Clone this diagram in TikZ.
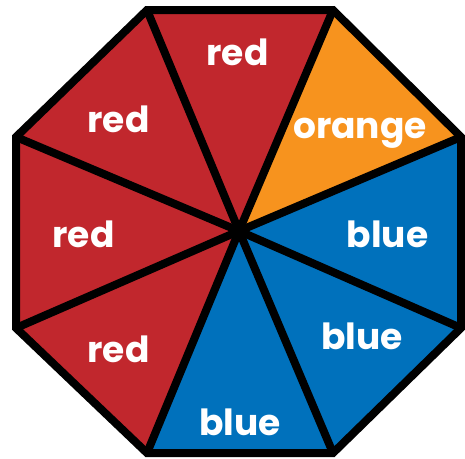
\documentclass[tikz,border=0pt]{standalone}
\usepackage{fontspec}
\setmainfont{Poppins}
\definecolor{wheelred}{RGB}{193,39,45}
\definecolor{wheelorange}{RGB}{247,147,30}
\definecolor{wheelblue}{RGB}{0,113,188}
\begin{document}
\begin{tikzpicture}[yscale=-1
,rim/.style={draw=black,line width=8pt,line join=miter}
,spoke/.style={draw=black,line width=8pt}
,word/.style={anchor=base,text=white,inner sep=0,font=\fontsize{36pt}{36pt}\selectfont\bfseries}
]
\useasboundingbox (0pt,0pt) rectangle (465pt,458pt);
% corners of the octagon and its centre
\coordinate (hub) at (239pt,231pt);
\coordinate (v1) at (147pt,10pt);
\coordinate (v2) at (333pt,10pt);
\coordinate (v3) at (461pt,137pt);
\coordinate (v4) at (461pt,328pt);
\coordinate (v5) at (333pt,453pt);
\coordinate (v6) at (147pt,453pt);
\coordinate (v7) at (16pt,328pt);
\coordinate (v8) at (16pt,137pt);
% wedges
\fill[wheelred] (hub) -- (v1) -- (v2) -- cycle;
\fill[wheelorange] (hub) -- (v2) -- (v3) -- cycle;
\fill[wheelblue] (hub) -- (v3) -- (v4) -- cycle;
\fill[wheelblue] (hub) -- (v4) -- (v5) -- cycle;
\fill[wheelblue] (hub) -- (v5) -- (v6) -- cycle;
\fill[wheelred] (hub) -- (v6) -- (v7) -- cycle;
\fill[wheelred] (hub) -- (v7) -- (v8) -- cycle;
\fill[wheelred] (hub) -- (v8) -- (v1) -- cycle;
% spokes and rim
\foreach \v in {1,...,8}
  \draw[spoke] (hub) -- (v\v);
\draw[rim] (v1) -- (v2) -- (v3) -- (v4) -- (v5) -- (v6) -- (v7) -- (v8) -- cycle;
% labels
\node[word] (topred) at (237.5pt,65pt) {red};
\node[word] (orange) at (360pt,138pt) {orange};
\node[word] (rightblue) at (387.5pt,247pt) {blue};
\node[word] (lowrightblue) at (362pt,349pt) {blue};
\node[word] (bottomblue) at (240pt,435pt) {blue};
\node[word] (lowleftred) at (118.5pt,362pt) {red};
\node[word] (leftred) at (83.5pt,247pt) {red};
\node[word] (upleftred) at (118.5pt,132pt) {red};
\end{tikzpicture}
\end{document}
